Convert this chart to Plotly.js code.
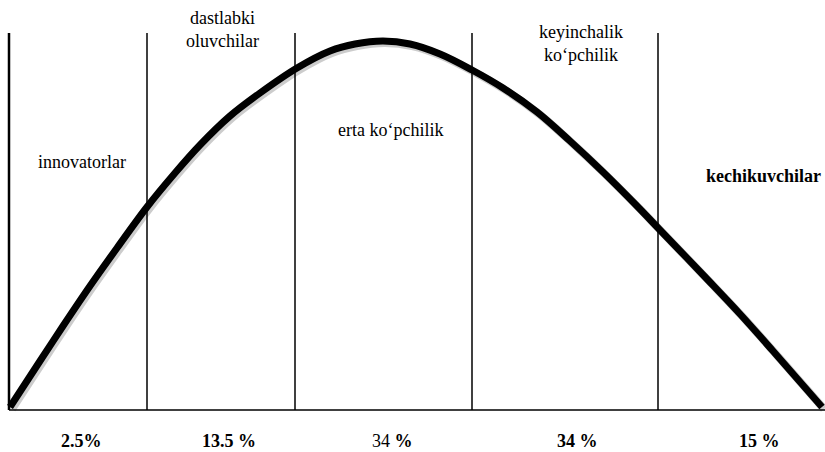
<!DOCTYPE html>
<html><head><meta charset="utf-8">
<script src="https://cdn.plot.ly/plotly-3.0.1.min.js"></script>
<style>html,body{margin:0;padding:0;background:#fff}#chart{width:825px;height:452px}</style>
</head><body><div id="chart"></div>
<script>
// Curve (x position, height above the bottom of the frame)
const curveX = [10, 40, 63, 90, 117, 147, 175, 200, 230, 260, 297, 330, 355, 383, 410, 440, 472, 503, 537, 570, 603, 637, 660, 707, 740, 773, 822];
const curveY = [45, 91, 126, 166, 204, 245, 279, 307, 336, 359, 384, 401, 408, 411, 408, 398, 382, 364, 340, 311, 280, 246, 222, 173, 138, 101, 45];
// Segment boundaries
const boundaries = [9, 147, 295, 472, 658];
const lineTop = 419;
const baseY = 42;
const baseEnd = 825;
// Segment names and shares
const groupNames = ["innovatorlar", "dastlabki<br>oluvchilar", "erta ko‘pchilik", "keyinchalik<br>ko‘pchilik", "<b>kechikuvchilar</b>"];
const groupNameX = [82, 222, 390, 581, 763];
const groupNameY = [290, 423, 322, 409, 276];
const shareLabels = ["<b>2.5%</b>", "<b>13.5 %</b>", "34 <b>%</b>", "<b>34 %</b>", "<b>15 %</b>"];
const shareX = [81, 229, 392, 577, 759];
const shareY = 11;

const traces = [];
boundaries.forEach((b, i) => {
  traces.push({x: [b, b], y: [baseY, lineTop], mode: 'lines', hoverinfo: 'skip',
    line: {color: '#000', width: i === 0 ? 2.5 : 1.5}});
});
traces.push({x: [boundaries[0], baseEnd], y: [baseY, baseY], mode: 'lines', hoverinfo: 'skip',
  line: {color: '#000', width: 1.5}});
// soft shadow drawn through offset axes
traces.push({x: curveX, y: curveY, xaxis: 'x2', yaxis: 'y2', mode: 'lines', hoverinfo: 'skip',
  line: {color: 'rgba(0,0,0,0.2)', width: 8, shape: 'spline', smoothing: 1}});
traces.push({x: curveX, y: curveY, mode: 'lines', line: {color: '#000', width: 7, shape: 'spline', smoothing: 1}});

const fam = '"Liberation Serif", "Times New Roman", Times, serif';
const font = {family: fam, size: 18, color: '#000'};
const annotations = [];
groupNames.forEach((t, i) => annotations.push({x: groupNameX[i], y: groupNameY[i], xref: 'x', yref: 'y', text: t, showarrow: false, font: font, align: 'center'}));
shareLabels.forEach((t, i) => annotations.push({x: shareX[i], y: shareY, xref: 'x', yref: 'y', text: t, showarrow: false, font: font}));

Plotly.newPlot('chart', traces, {
  width: 825, height: 452, margin: {l: 0, r: 0, t: 0, b: 0},
  paper_bgcolor: '#fff', plot_bgcolor: 'rgba(0,0,0,0)', showlegend: false,
  font: {family: fam},
  xaxis: {range: [0, 825], visible: false, fixedrange: true},
  yaxis: {range: [0, 452], visible: false, fixedrange: true},
  xaxis2: {range: [-2, 823], visible: false, overlaying: 'x', fixedrange: true},
  yaxis2: {range: [2, 454], visible: false, overlaying: 'y', fixedrange: true},
  annotations: annotations
}, {displayModeBar: false, staticPlot: true});
</script></body></html>
